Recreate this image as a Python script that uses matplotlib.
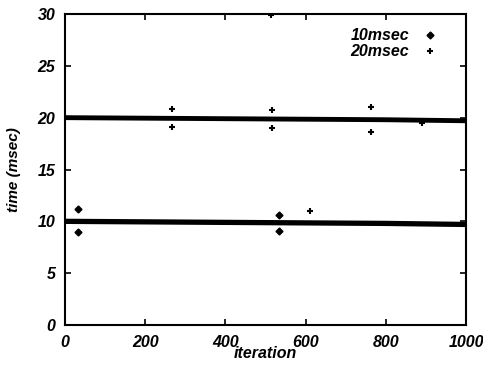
import matplotlib
matplotlib.use("Agg")
import matplotlib.pyplot as plt
from matplotlib.lines import Line2D

# steady level of each series along the run
level_iter = [0, 200, 400, 600, 800, 1000]
level_10ms = [10.0, 9.95, 9.9, 9.85, 9.8, 9.7]
level_20ms = [20.0, 19.95, 19.9, 19.85, 19.8, 19.7]

# outliers away from the steady level
out10_iter = [32, 32, 534, 534]
out10_time = [11.2, 9.0, 10.6, 9.1]
out20_iter = [267, 267, 514, 516, 516, 611, 763, 763, 890]
out20_time = [20.8, 19.1, 29.9, 20.7, 19.0, 11.0, 21.0, 18.6, 19.5]

xticks = [0, 200, 400, 600, 800, 1000]
yticks = [0, 5, 10, 15, 20, 25, 30]

font = {"family": "Liberation Sans", "weight": "bold", "style": "italic"}

fig = plt.figure(figsize=(4.83, 3.68), dpi=100)
ax = fig.add_axes([0.1346, 0.1168, 0.8302, 0.8452])

ax.plot(level_iter, level_10ms, color="black", lw=3.8, solid_capstyle="butt")
ax.plot(level_iter, level_20ms, color="black", lw=3.5, solid_capstyle="butt")
ax.plot(out10_iter, out10_time, "D", color="black", ms=3.5, ls="none")
ax.plot(out20_iter, out20_time, "+", color="black", ms=5, mew=1.5, ls="none")

ax.set_xlim(0, 1000)
ax.set_ylim(0, 30)
ax.set_xticks(xticks)
ax.set_yticks(yticks)
ax.set_xticklabels([str(v) for v in xticks], fontdict=font, fontsize=11.5)
ax.set_yticklabels([str(v) for v in yticks], fontdict=font, fontsize=11.5)
ax.tick_params(direction="in", length=4, width=1.2, top=True, right=True, pad=7)
for s in ax.spines.values():
    s.set_linewidth(1.5)

ax.set_xlabel("iteration", fontdict=font, fontsize=11.5, labelpad=-3)
ax.set_ylabel("time (msec)", fontdict=font, fontsize=11, labelpad=12)

handles = [
    Line2D([], [], marker="D", color="black", ms=3.5, ls="none"),
    Line2D([], [], marker="+", color="black", ms=5, mew=1.5, ls="none"),
]
leg = ax.legend(handles, ["10msec", "20msec"], loc="upper right", frameon=False,
                markerfirst=False, prop={"family": "Liberation Sans", "weight": "bold",
                                          "style": "italic", "size": 11.5},
                handlelength=1.2, handletextpad=0.7, labelspacing=0.05,
                borderaxespad=0.5, bbox_to_anchor=(0.97, 1.0))

fig.savefig("out.png", dpi=100)
